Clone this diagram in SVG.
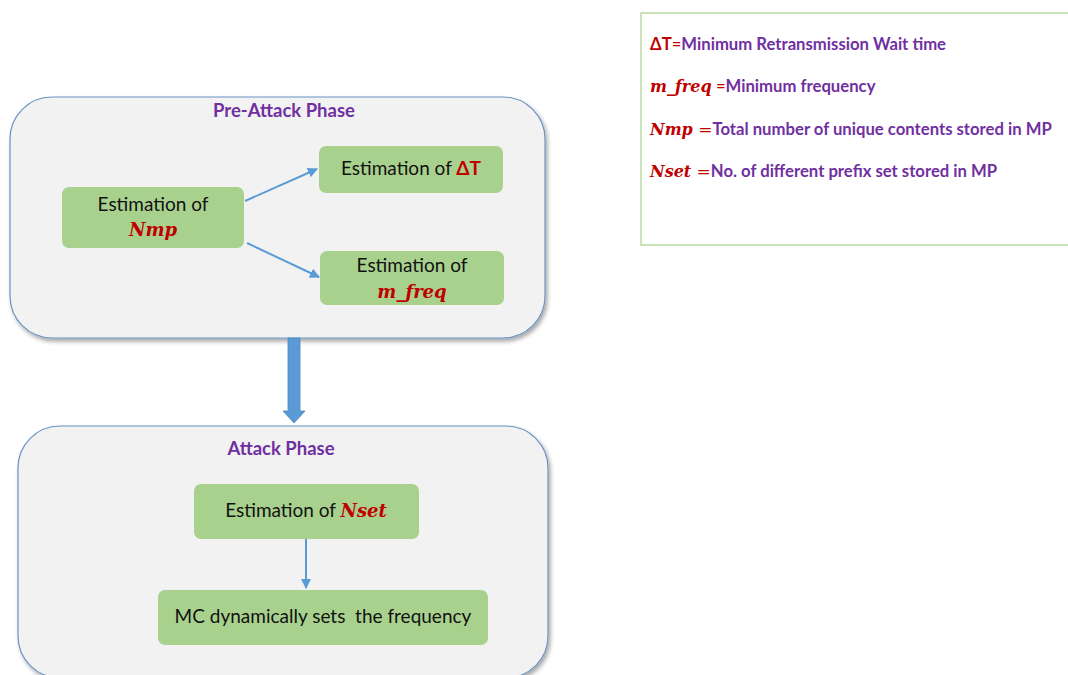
<svg xmlns="http://www.w3.org/2000/svg" width="1068" height="675" viewBox="0 0 1068 675">
<defs>
<style>
.phase{fill:#f2f2f2;stroke:#6a93c4;stroke-width:1.2;filter:url(#sh)}
.node{fill:#a9d18e}
.t{font-family:Lato,"Liberation Sans",sans-serif;font-size:19px;fill:#111;text-anchor:middle}
.title{font-family:Lato,"Liberation Sans",sans-serif;font-size:18.5px;font-weight:bold;fill:#7030a0;text-anchor:middle}
.m{font-family:"DejaVu Serif",serif;font-style:italic;font-weight:bold;fill:#c00000}
.r{fill:#c00000;font-weight:bold}
.leg{font-family:Lato,"Liberation Sans",sans-serif;font-size:16.7px;font-weight:bold;fill:#7030a0}
.conn{stroke:#5b9bd5;stroke-width:2;fill:none;marker-end:url(#ah)}
</style>
<filter id="sh" x="-5%" y="-5%" width="112%" height="115%">
<feDropShadow dx="2" dy="3" stdDeviation="2" flood-color="#000" flood-opacity="0.35"/>
</filter>
<marker id="ah" viewBox="0 0 10 10" refX="9" refY="5" markerWidth="5" markerHeight="5" orient="auto">
<path d="M0,0 L10,5 L0,10 z" fill="#5b9bd5"/>
</marker>
</defs>
<rect width="1068" height="675" fill="#fff"/>
<g id="preattack">
<rect class="phase" x="10" y="97" width="535" height="241" rx="42"/>
<text class="title" x="284" y="117">Pre-Attack Phase</text>
</g>
<g id="attack">
<rect class="phase" x="18" y="426" width="530" height="252" rx="42"/>
<text class="title" x="281" y="455">Attack Phase</text>
</g>
<g id="connectors">
<line class="conn" x1="245" y1="201" x2="317" y2="169"/>
<line class="conn" x1="247" y1="243" x2="319" y2="277"/>
<line class="conn" x1="306" y1="539" x2="306" y2="588"/>
<path d="M288,338 H300 V411 H305 L294,423 L283,411 H288 Z" fill="#5b9bd5" stroke="#4a86c0" stroke-width="0.8"/>
</g>
<g id="nmp">
<rect class="node" x="62" y="187" width="182" height="61" rx="7"/>
<text class="t" x="153" y="211">Estimation of</text>
<text class="m" x="153" y="236" font-size="18" text-anchor="middle">Nmp</text>
</g>
<g id="deltat">
<rect class="node" x="319" y="146" width="184" height="47" rx="7"/>
<text class="t" x="411" y="175">Estimation of <tspan class="r">ΔT</tspan></text>
</g>
<g id="mfreq">
<rect class="node" x="320" y="251" width="184" height="54" rx="7"/>
<text class="t" x="412" y="272">Estimation of</text>
<text class="m" x="412" y="298" font-size="18" text-anchor="middle">m_freq</text>
</g>
<g id="nset">
<rect class="node" x="194" y="484" width="225" height="55" rx="7"/>
<text class="t" x="306" y="517">Estimation of <tspan class="m" font-size="18">Nset</tspan></text>
</g>
<g id="mc">
<rect class="node" x="158" y="590" width="330" height="55" rx="7"/>
<text class="t" x="323" y="623" xml:space="preserve">MC dynamically sets  the frequency</text>
</g>
<g id="legend">
<rect x="641" y="13" width="440" height="232" fill="#fff" stroke="#a9d18e" stroke-width="1.2"/>
<text class="leg" x="650" y="50"><tspan class="r">ΔT</tspan><tspan fill="#c00000" font-weight="normal">=</tspan>Minimum Retransmission Wait time</text>
<text class="leg" x="650" y="92"><tspan class="m" font-size="16">m_freq</tspan><tspan fill="#c00000" font-weight="normal"> =</tspan>Minimum frequency</text>
<text class="leg" x="650" y="135"><tspan class="m" font-size="16">Nmp</tspan><tspan fill="#c00000" font-weight="normal" font-family="DejaVu Serif" font-size="17"> =</tspan>Total number of unique contents stored in MP</text>
<text class="leg" x="650" y="177"><tspan class="m" font-size="16">Nset</tspan><tspan fill="#c00000" font-weight="normal" font-family="DejaVu Serif" font-size="17"> =</tspan>No. of different prefix set stored in MP</text>
</g>
</svg>
